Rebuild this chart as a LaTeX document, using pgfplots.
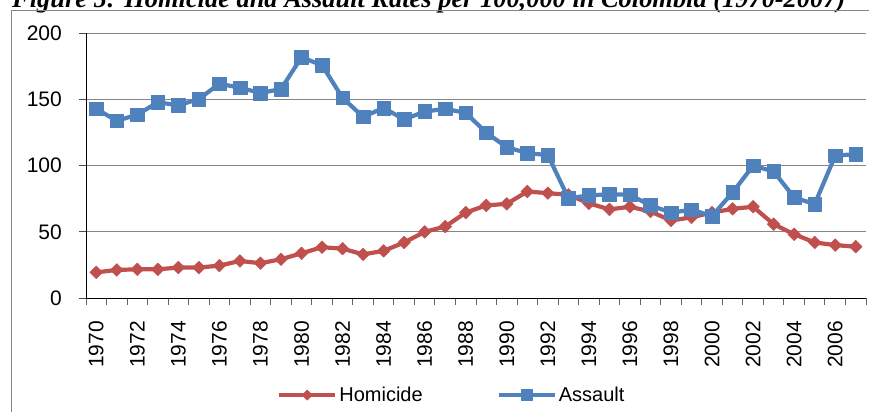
\documentclass[border=0pt]{standalone}
\usepackage{fontspec}
\setmainfont{Liberation Sans}
\newfontfamily\titlefont{Liberation Serif}
\usepackage{pgfplots}
\pgfplotsset{compat=1.18}
\definecolor{hom}{HTML}{C0504D}
\definecolor{asl}{HTML}{4F81BD}
\definecolor{gridc}{HTML}{868686}

\begin{document}
\begin{tikzpicture}[x=1pt,y=1pt]
\path[use as bounding box] (0,0) rectangle (869,412);
\node[anchor=base west, inner sep=0pt, font=\titlefont\bfseries\itshape\fontsize{26.4}{30}\selectfont] at (12,404) {Figure 5: Homicide and Assault Rates per 100,000 in Colombia (1970-2007)};
\draw[gridc, line width=1pt] (11.5,0) -- (11.5,401) -- (869,401);
\begin{axis}[
  at={(86pt,114pt)}, anchor=south west,
  scale only axis, width=780pt, height=264.5pt,
  xmin=1969.5, xmax=2007.5, ymin=0, ymax=200,
  axis lines*=left,
  axis line style={black, line width=1pt},
  ytick={0,50,100,150,200},
  ymajorgrids,
  major grid style={gridc, line width=1pt},
  xtick={1970,1972,...,2006},
  minor xtick={1969.5,1970.5,...,2007.5},
  tick align=outside,
  major tick length=7pt, minor tick length=6.5pt,
  major x tick style={draw=none},
  minor x tick style={black!60, line width=1pt},
  y tick style={black!70, line width=1pt},
  tick label style={font=\fontsize{21}{24}\selectfont},
  /pgf/number format/assume math mode=true,
  x tick label style={rotate=90, anchor=east, inner sep=0pt, /pgf/number format/1000 sep={}},
  y tick label style={anchor=east, inner sep=0pt},
  xticklabel shift=16pt,
  yticklabel shift=17pt,
  legend columns=2,
  legend style={at={(0.469,-0.367)}, anchor=center, draw=none, fill=none,
    font=\fontsize{20}{24}\selectfont, nodes={inner sep=2pt},
    /tikz/column 2/.style={column sep=72pt}},
  legend image code/.code={\draw[mark repeat=2,mark phase=2,#1, every mark/.append style={scale=0.8}] plot coordinates {(0pt,0pt) (28pt,0pt) (56pt,0pt)};},
  clip=false,
]
\addplot[hom, line width=4.2pt, line join=round, mark=square*, mark size=4.5pt, mark options={rotate=45, solid, line width=0.5pt}] coordinates {
(1970,19.4) (1971,21.2) (1972,21.7) (1973,21.7) (1974,23) (1975,23) (1976,24.5) (1977,28) (1978,26.3) (1979,29.3)
(1980,33.8) (1981,38.4) (1982,37.3) (1983,33) (1984,35.6) (1985,42) (1986,50) (1987,54) (1988,64.6) (1989,70)
(1990,71.2) (1991,80.5) (1992,79.3) (1993,78) (1994,71.6) (1995,67) (1996,69) (1997,65.4) (1998,58.6) (1999,61)
(2000,64.6) (2001,67.4) (2002,69) (2003,55.8) (2004,48.2) (2005,42) (2006,40) (2007,38.8)
};
\addlegendentry{Homicide}
\addplot[asl, line width=4.2pt, line join=round, mark=square*, mark size=6.8pt, mark options={solid, line width=0.5pt}] coordinates {
(1970,143) (1971,134) (1972,138.6) (1973,148) (1974,145.7) (1975,150.5) (1976,162) (1977,159) (1978,155) (1979,158)
(1980,182) (1981,176) (1982,151.3) (1983,137) (1984,143.7) (1985,135) (1986,141) (1987,143) (1988,140) (1989,125)
(1990,114) (1991,109.6) (1992,108) (1993,75.5) (1994,77.5) (1995,78.5) (1996,78) (1997,70) (1998,64.6) (1999,66.7)
(2000,62) (2001,79.8) (2002,100) (2003,95.7) (2004,76) (2005,71) (2006,107.6) (2007,108.8)
};
\addlegendentry{Assault}
\end{axis}
\end{tikzpicture}
\end{document}
